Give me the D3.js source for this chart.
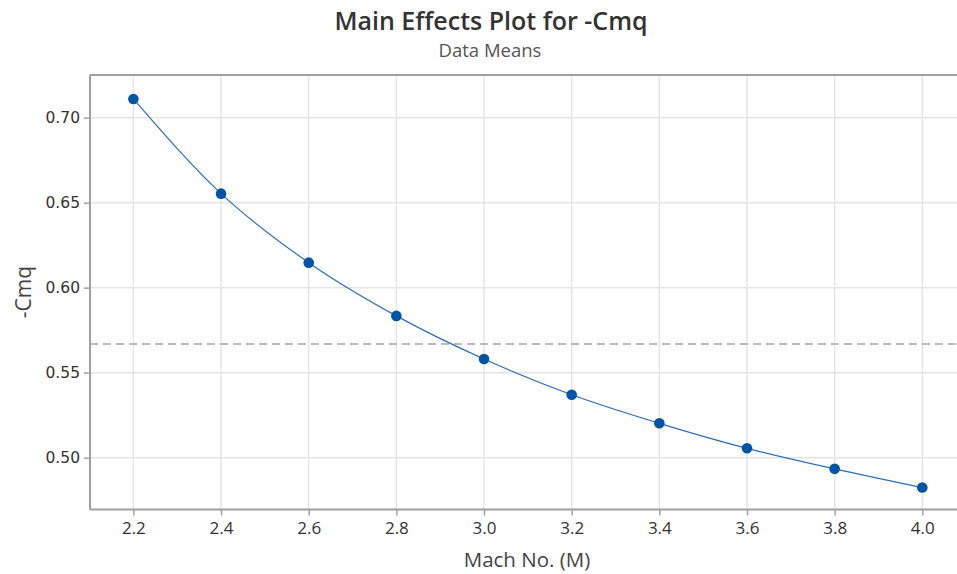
<!DOCTYPE html>
<html>
<head>
<meta charset="utf-8">
<script src="https://cdn.jsdelivr.net/npm/d3@7"></script>
<style>
  html, body { margin: 0; padding: 0; background: #fff; }
  svg { display: block; }
</style>
</head>
<body>
<svg id="chart" width="957" height="574"></svg>
<script>
const machNumbers = [2.2, 2.4, 2.6, 2.8, 3.0, 3.2, 3.4, 3.6, 3.8, 4.0];
const cmqMeans = [0.711, 0.6553, 0.6147, 0.5834, 0.558, 0.537, 0.5202, 0.5055, 0.4934, 0.4824];
const overallMean = 0.5668;
const xTickValues = [2.2, 2.4, 2.6, 2.8, 3.0, 3.2, 3.4, 3.6, 3.8, 4.0];
const yTickValues = [0.50, 0.55, 0.60, 0.65, 0.70];
const titleText = "Main Effects Plot for -Cmq";
const subtitleText = "Data Means";
const xLabelText = "Mach No. (M)";
const yLabelText = "-Cmq";

(function () {
const svg = d3.select("#chart");
const pLeft = 90, pTop = 75, pBottom = 509.5, pRight = 990;

const x = d3.scaleLinear().domain([2.101, 4.0746 + (pRight - 955) / 438.3]).range([pLeft, pRight]);
const y = d3.scaleLinear().domain([0.4695, 0.7251]).range([pBottom, pTop]);

const blue = "#0054a6";
const textColor = "#333333";

// grid
const g = svg.append("g");
g.selectAll(".vgrid").data(xTickValues).enter().append("line")
  .attr("x1", d => x(d)).attr("x2", d => x(d))
  .attr("y1", pTop).attr("y2", pBottom)
  .attr("stroke", "#e5e5e5").attr("stroke-width", 1.5);
g.selectAll(".hgrid").data(yTickValues).enter().append("line")
  .attr("x1", pLeft).attr("x2", pRight)
  .attr("y1", d => y(d)).attr("y2", d => y(d))
  .attr("stroke", "#e5e5e5").attr("stroke-width", 1.5);

// frame
svg.append("line").attr("x1", pLeft).attr("x2", pRight).attr("y1", pTop).attr("y2", pTop)
  .attr("stroke", "#a0a0a0").attr("stroke-width", 2);

// axes
const xAxis = d3.axisBottom(x).tickValues(xTickValues).tickFormat(d3.format(".1f")).tickSize(6).tickSizeOuter(0);
const yAxis = d3.axisLeft(y).tickValues(yTickValues).tickFormat(d3.format(".2f")).tickSize(6).tickSizeOuter(0);

const xa = svg.append("g").attr("transform", `translate(0,${pBottom})`).call(xAxis);
xa.select(".domain").attr("stroke", "#a0a0a0").attr("stroke-width", 2)
  .attr("d", `M${pLeft},0H${pRight}`);
xa.selectAll(".tick line").attr("stroke", "#a0a0a0").attr("stroke-width", 1.5);
xa.selectAll(".tick text").attr("fill", textColor).attr("font-family", "Open Sans")
  .attr("font-size", "17px").attr("y", 10).attr("dy", "0.85em");

const ya = svg.append("g").attr("transform", `translate(${pLeft},0)`).call(yAxis);
ya.select(".domain").attr("stroke", "#a0a0a0").attr("stroke-width", 2)
  .attr("d", `M0,${pTop}V${pBottom}`);
ya.selectAll(".tick line").attr("stroke", "#a0a0a0").attr("stroke-width", 1.5);
ya.selectAll(".tick text").attr("fill", textColor).attr("font-family", "DejaVu Sans")
  .attr("font-size", "15.5px").attr("x", -10);

// reference line (mean)
svg.append("line").attr("x1", pLeft).attr("x2", pRight)
  .attr("y1", y(overallMean)).attr("y2", y(overallMean))
  .attr("stroke", "#a6a6a6").attr("stroke-width", 1.5).attr("stroke-dasharray", "8,5");

// data line
const pts = machNumbers.map((m, i) => [m, cmqMeans[i]]);
svg.append("path").datum(pts)
  .attr("d", d3.line().x(d => x(d[0])).y(d => y(d[1])).curve(d3.curveMonotoneX))
  .attr("fill", "none").attr("stroke", "#2a6ebd").attr("stroke-width", 1.2);

svg.selectAll(".pt").data(pts).enter().append("circle")
  .attr("cx", d => x(d[0])).attr("cy", d => y(d[1])).attr("r", 5.3)
  .attr("fill", blue);

// titles
svg.append("text").attr("x", 491).attr("y", 30).attr("text-anchor", "middle")
  .attr("font-family", "Open Sans").attr("font-weight", 600).attr("font-size", "25px")
  .attr("fill", "#333").text(titleText);
svg.append("text").attr("x", 490).attr("y", 57).attr("text-anchor", "middle")
  .attr("font-family", "Open Sans").attr("font-size", "18.5px")
  .attr("fill", "#555").text(subtitleText);

svg.append("text").attr("x", 527).attr("y", 567).attr("text-anchor", "middle")
  .attr("font-family", "Open Sans").attr("font-size", "20.5px")
  .attr("fill", "#444").text(xLabelText);
svg.append("text").attr("transform", "translate(31,292) rotate(-90)").attr("text-anchor", "middle")
  .attr("font-family", "Open Sans").attr("font-size", "21px")
  .attr("fill", "#444").text(yLabelText);
})();
</script>
</body>
</html>
